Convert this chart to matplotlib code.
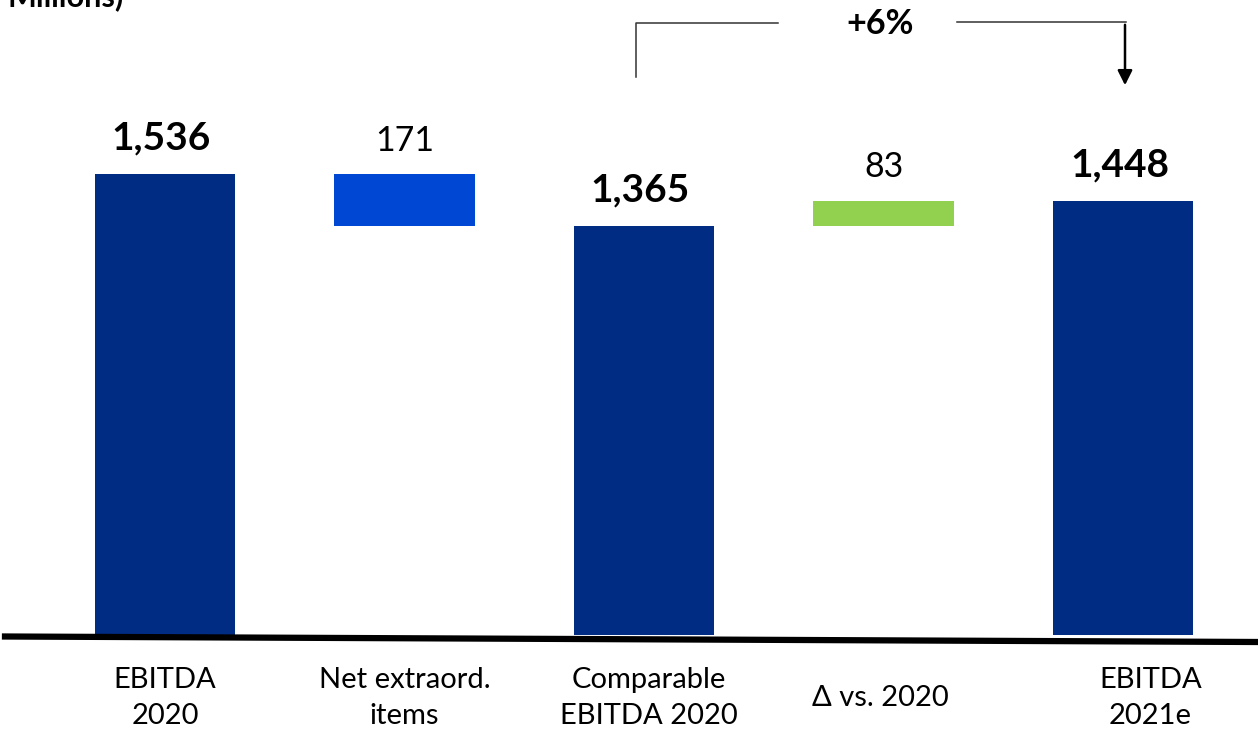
import matplotlib
matplotlib.use("Agg")
import matplotlib.pyplot as plt
from matplotlib.lines import Line2D

plt.rcParams['font.family'] = ['Lato', 'DejaVu Sans']

# data
categorias = ["EBITDA\n2020", "Net extraord.\nitems", "Comparable\nEBITDA 2020", "Δ vs. 2020", "EBITDA\n2021e"]
valores = [1536, -171, 1365, 83, 1448]
etiquetas = ["1,536", "171", "1,365", "83", "1,448"]
totales = [True, False, True, False, True]
crecimiento = "+6%"

azul_osc = "#002C84"
azul = "#0048D4"
verde = "#92D050"

fig = plt.figure(figsize=(12.58, 7.32), dpi=100)
# axes spans full width; bottom at the baseline
ax = fig.add_axes([0, 0.1325, 1, 0.8675])
px = 239.5
ax.set_xlim(-165 / px, 4 + (1258 - 1123) / px)
ax.set_ylim(0, 635 / 0.3)
ax.axis("off")

acum = 0
for i, (v, tot) in enumerate(zip(valores, totales)):
    if tot:
        base, alto, col = 0, v, azul_osc
        acum = v
    else:
        if v < 0:
            base, alto, col = acum + v, -v, azul
        else:
            base, alto, col = acum, v, verde
        acum = acum + v
    ax.bar(i, alto, bottom=base, width=0.585, color=col)
    top = base + alto
    if tot:
        ax.text(i - 0.015, top + 120, etiquetas[i], ha="center", va="center",
                fontsize=28, fontweight="bold")
    else:
        ax.text(i, top + 112, etiquetas[i], ha="center", va="center", fontsize=24.5)

# category labels
desp = [0, 0, 0.02, -0.015, 0.115]
for i, c in enumerate(categorias):
    y = 1 - 698 / 732
    fig.text((165 + i * px + desp[i] * px) / 1258, y, c, ha="center", va="center",
             fontsize=21, linespacing=1.45)

# tilted baseline
fig.add_artist(Line2D([5 / 1258, 1], [1 - 636.5 / 732, 1 - 642 / 732],
                      color="black", lw=4.5, transform=fig.transFigure))

# growth bracket
def fx(x):
    return x / 1258

def fy(y):
    return 1 - y / 732

fig.add_artist(Line2D([fx(636), fx(636), fx(778)], [fy(77), fy(23), fy(23)],
                      color="#333333", lw=1.1, transform=fig.transFigure))
fig.add_artist(Line2D([fx(957), fx(1126)], [fy(22), fy(22)],
                      color="#333333", lw=1.1, transform=fig.transFigure))
fig.text(fx(880), fy(24), crecimiento, ha="center", va="center", fontsize=24.5, fontweight="bold")
ax.annotate("", xy=(fx(1125), fy(88)), xytext=(fx(1125), fy(22)),
            xycoords="figure fraction", textcoords="figure fraction",
            arrowprops=dict(arrowstyle="-|>", color="black", lw=1.8, mutation_scale=22))

fig.text(fx(8), fy(6), "Millions)", ha="left", va="baseline", fontsize=22, fontweight="bold")

fig.savefig("out.png", dpi=100)
